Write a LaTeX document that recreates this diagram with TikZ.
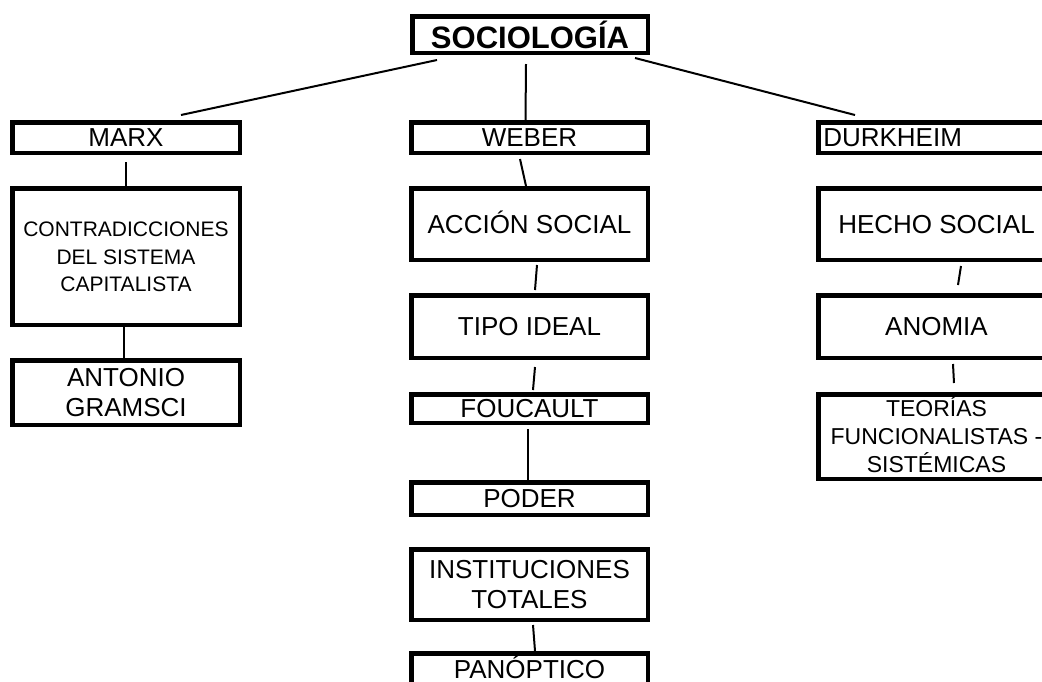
\documentclass[tikz,border=0pt]{standalone}
\usepackage{fontspec}
\setmainfont{Liberation Sans}
\usetikzlibrary{calc}
\tikzset{
  box/.style={draw, line width=4.5pt, inner sep=0pt, align=center,
    font=\fontsize{26}{30}\selectfont, text height=18.6pt, text depth=0pt},
  colL/.style={minimum width=227.5pt},
  colM/.style={minimum width=236.5pt},
  twolines/.style={text height=48.6pt, text depth=0pt},
  conn/.style={line width=2pt},
}
\begin{document}
\begin{tikzpicture}[x=1pt,y=1pt]
\fill[white] (0,0) rectangle (1042,-681);
\useasboundingbox (0,0) rectangle (1042,-681);

% top
\node[box, minimum width=235.5pt, minimum height=36.5pt,
      font=\bfseries\fontsize{31}{36}\selectfont, text height=28.2pt] (soc) at (530,-34.5) {SOCIOLOGÍA};

% left column
\node[box, colL, minimum height=30.5pt] (marx) at (126,-137.5) {MARX};
\node[box, colL, minimum height=136.5pt, font=\fontsize{21}{27.5}\selectfont,
      text height=70pt, text depth=0pt] (contra) at (126,-256.5) {CONTRADICCIONES\\DEL SISTEMA\\CAPITALISTA};
\node[box, colL, minimum height=64.5pt, twolines] (gramsci) at (126,-392.5) {ANTONIO\\GRAMSCI};

% middle column
\node[box, colM, minimum height=30.5pt] (weber) at (529.5,-137.5) {WEBER};
\node[box, colM, minimum height=71.5pt] (accion) at (529.5,-224) {ACCIÓN SOCIAL};
\node[box, colM, minimum height=62.5pt] (tipo) at (529.5,-326.5) {TIPO IDEAL};
\node[box, colM, minimum height=28.5pt] (foucault) at (529.5,-408.5) {FOUCAULT};
\node[box, colM, minimum height=32.5pt] (poder) at (529.5,-498.5) {PODER};
\node[box, colM, minimum height=70.5pt, twolines] (inst) at (529.5,-584.5) {INSTITUCIONES\\TOTALES};
\node[box, colM, minimum height=32.5pt] (pan) at (529.5,-669.5) {PANÓPTICO};

% right column
\node[box, minimum height=30.5pt, text width=226.5pt, inner xsep=5pt, align=left] (durk) at (936.5,-137.5) {DURKHEIM};
\node[box, colM, minimum height=71.5pt] (hecho) at (936.5,-224) {HECHO SOCIAL};
\node[box, colM, minimum height=62.5pt] (anomia) at (936.5,-326.5) {ANOMIA};
\node[box, colM, minimum height=84.5pt, font=\fontsize{23}{28}\selectfont,
      text height=72.5pt, text depth=0pt] (teorias) at (936.5,-436.5) {TEORÍAS\\FUNCIONALISTAS -\\SISTÉMICAS};

% connectors
\draw[conn] ($(soc.south)+(-93,-5)$) -- ($(marx.north)+(55,5)$);
\draw[conn] ($(soc.south)+(-4,-9)$) -- ($(weber.north)+(-4,0)$);
\draw[conn] ($(soc.south east)+(-15,-3)$) -- ($(durk.north west)+(39,5)$);
\draw[conn] ($(marx.south)+(0,-7)$) -- (contra.north);
\draw[conn] ($(contra.south)+(-2,0)$) -- ($(gramsci.north)+(-2,0)$);
\draw[conn] ($(weber.south)+(-9.5,-4)$) -- ($(accion.north)+(-3.5,0)$);
\draw[conn] ($(accion.south)+(7.5,-3)$) -- ($(tipo.north)+(5.5,3)$);
\draw[conn] ($(tipo.south)+(5.5,-7)$) -- ($(foucault.north)+(3.5,2)$);
\draw[conn] ($(foucault.south)+(-1.5,-4)$) -- ($(poder.north)+(-1.5,0)$);
\draw[conn] ($(inst.south)+(3.5,-3)$) -- ($(pan.north)+(5.5,0)$);
\draw[conn] ($(hecho.south)+(24.5,-4)$) -- ($(anomia.north)+(21.5,8)$);
\draw[conn] ($(anomia.south)+(16.5,-4)$) -- ($(teorias.north)+(17.5,9)$);
\end{tikzpicture}
\end{document}
